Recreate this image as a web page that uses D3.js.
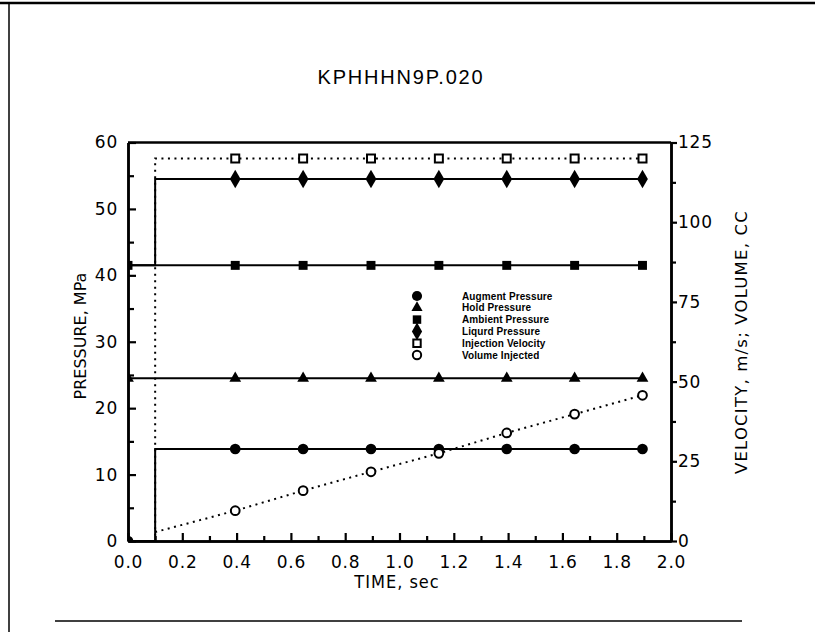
<!DOCTYPE html>
<html>
<head>
<meta charset="utf-8">
<script src="https://cdn.jsdelivr.net/npm/d3@7"></script>
<style>
  html, body { margin: 0; padding: 0; background: #fff; }
  svg { display: block; }
</style>
</head>
<body>
<svg id="chart" width="815" height="632"></svg>
<script>
// Time base shared by every series (the step at 0.1 s appears twice)
const time = [0, 0.1, 0.1, 0.395, 0.645, 0.895, 1.145, 1.395, 1.645, 1.895];

// Pressures, MPa (left axis)
const augmentPressure = [0, 0, 13.85, 13.85, 13.85, 13.85, 13.85, 13.85, 13.85, 13.85];
const holdPressure    = [24.5, 24.5, 24.5, 24.5, 24.5, 24.5, 24.5, 24.5, 24.5, 24.5];
const ambientPressure = [41.5, 41.5, 41.5, 41.5, 41.5, 41.5, 41.5, 41.5, 41.5, 41.5];
const liquidPressure  = [41.5, 41.5, 54.5, 54.5, 54.5, 54.5, 54.5, 54.5, 54.5, 54.5];

// Velocity m/s and volume cc (right axis)
const injectionVelocity = [0, 0, 120, 120, 120, 120, 120, 120, 120, 120];
const volumeInjected    = [null, null, 2.8, 9.5, 15.8, 21.7, 27.5, 33.9, 39.8, 45.7];

// Which points carry a symbol
const markedPoints = [3, 4, 5, 6, 7, 8, 9];

const xTicks = [0, 0.2, 0.4, 0.6, 0.8, 1.0, 1.2, 1.4, 1.6, 1.8, 2.0];
const xMinorTicks = [0.1, 0.3, 0.5, 0.7, 0.9, 1.1, 1.3, 1.5, 1.7, 1.9];
const leftTicks = [0, 10, 20, 30, 40, 50, 60];
const leftMinorTicks = [5, 15, 25, 35, 45, 55];
const rightTicks = [0, 25, 50, 75, 100, 125];
const rightMinorTicks = [12.5, 37.5, 62.5, 87.5, 112.5];

const titleText = "KPHHHN9P.020";
const xLabel = "TIME, sec";
const leftLabel = "PRESSURE, MPa";
const rightLabel = "VELOCITY, m/s;  VOLUME, CC";

const series = [
  { name: "Augment Pressure",   values: augmentPressure,   axis: "left",  symbol: "circle",   filled: true,  dotted: false, startMark: true },
  { name: "Hold Pressure",      values: holdPressure,      axis: "left",  symbol: "triangle", filled: true,  dotted: false, startMark: true },
  { name: "Ambient Pressure",   values: ambientPressure,   axis: "left",  symbol: "square",   filled: true,  dotted: false, startMark: true },
  { name: "Liquid Pressure",    values: liquidPressure,    axis: "left",  symbol: "diamond",  filled: true,  dotted: false, startMark: false },
  { name: "Injection Velocity", values: injectionVelocity, axis: "right", symbol: "square",   filled: false, dotted: true,  startMark: false },
  { name: "Volume Injected",    values: volumeInjected,    axis: "right", symbol: "circle",   filled: false, dotted: true,  startMark: false }
];
const legendLabels = ["Augment Pressure", "Hold Pressure", "Ambient Pressure", "Liqurd Pressure", "Injection Velocity", "Volume Injected"];

const svg = d3.select("#chart");
const plot = { left: 128, right: 671, top: 142.5, bottom: 541 };

const x = d3.scaleLinear().domain([0, 2]).range([plot.left, plot.right]);
const yL = d3.scaleLinear().domain([0, 60]).range([plot.bottom, plot.top]);
const yR = d3.scaleLinear().domain([0, 125]).range([plot.bottom, plot.top]);

const tickFont = "'DejaVu Sans', sans-serif";

// Page frame rules
svg.append("line").attr("x1", 0).attr("x2", 815).attr("y1", 3).attr("y2", 3)
  .attr("stroke", "#000").attr("stroke-width", 2.5);
svg.append("line").attr("x1", 9).attr("x2", 9).attr("y1", 3).attr("y2", 632)
  .attr("stroke", "#000").attr("stroke-width", 1.5);
svg.append("line").attr("x1", 55).attr("x2", 742).attr("y1", 621).attr("y2", 621)
  .attr("stroke", "#000").attr("stroke-width", 1.5);

// Title
svg.append("text").attr("x", 401).attr("y", 84).attr("text-anchor", "middle")
  .attr("font-family", "'Liberation Sans', Arial, sans-serif").attr("font-size", 20)
  .attr("letter-spacing", 1.8).text(titleText);

// Clip for the data
svg.append("defs").append("clipPath").attr("id", "plotClip").append("rect")
  .attr("x", plot.left).attr("y", plot.top - 10)
  .attr("width", plot.right - plot.left + 10).attr("height", plot.bottom - plot.top + 10);

const data = svg.append("g").attr("clip-path", "url(#plotClip)");

function symbolPath(kind, size) {
  const t = { circle: d3.symbolCircle, triangle: d3.symbolTriangle, square: d3.symbolSquare, diamond: d3.symbolDiamond }[kind];
  return d3.symbol().type(t).size(size)();
}
const symbolSize = { circle: 90, triangle: 60, square: 80, diamond: 100 };

series.forEach(s => {
  const y = s.axis === "left" ? yL : yR;
  const pts = time.map((t, i) => [t, s.values[i]]).filter(p => p[1] !== null);
  const line = d3.line().x(p => x(p[0])).y(p => y(p[1]));
  data.append("path").attr("d", line(pts)).attr("fill", "none").attr("stroke", "#000")
    .attr("stroke-width", 2)
    .attr("stroke-dasharray", s.dotted ? "2,4.5" : null);
  const idx = s.startMark ? [0].concat(markedPoints) : markedPoints;
  idx.forEach(i => {
    const g = data.append("path")
      .attr("transform", `translate(${x(time[i])},${y(s.values[i])})`)
      .attr("d", symbolPath(s.symbol, s.filled ? symbolSize[s.symbol] : (s.symbol === "square" ? 64 : 60)));
    if (s.filled) g.attr("fill", "#000");
    else g.attr("fill", "#fff").attr("stroke", "#000").attr("stroke-width", 2);
  });
});

// Axes: bottom (ticks point into the plot)
const xAxisMinor = d3.axisBottom(x).tickValues(xMinorTicks).tickSizeInner(-5).tickSizeOuter(0).tickFormat("");
const xAxis = d3.axisBottom(x).tickValues(xTicks).tickSizeInner(-8).tickSizeOuter(0).tickPadding(15).tickFormat(d3.format(".1f"));
svg.append("g").attr("class", "ax").attr("transform", `translate(0,${plot.bottom})`).call(xAxisMinor);
svg.append("g").attr("class", "ax").attr("transform", `translate(0,${plot.bottom})`).call(xAxis);

// Left axis (ticks point into the plot)
const yLMinor = d3.axisLeft(yL).tickValues(leftMinorTicks).tickSizeInner(-6).tickSizeOuter(0).tickFormat("");
const yLAxis = d3.axisLeft(yL).tickValues(leftTicks).tickSizeInner(-8).tickSizeOuter(0).tickPadding(10).tickFormat(d3.format("d"));
svg.append("g").attr("class", "ax").attr("transform", `translate(${plot.left},0)`).call(yLMinor);
svg.append("g").attr("class", "ax").attr("transform", `translate(${plot.left},0)`).call(yLAxis);

// Right axis (ticks point outward)
const yRMinor = d3.axisRight(yR).tickValues(rightMinorTicks).tickSizeInner(5).tickSizeOuter(0).tickFormat("");
const yRAxis = d3.axisRight(yR).tickValues(rightTicks).tickSizeInner(6).tickSizeOuter(0).tickPadding(1).tickFormat(d3.format("d"));
svg.append("g").attr("class", "ax").attr("transform", `translate(${plot.right},0)`).call(yRMinor);
svg.append("g").attr("class", "ax").attr("transform", `translate(${plot.right},0)`).call(yRAxis);

svg.selectAll(".ax .domain").attr("stroke", "#000").attr("stroke-width", 2.5);
svg.selectAll(".ax .tick line").attr("stroke", "#000").attr("stroke-width", 2.2);
svg.selectAll(".ax .tick text").attr("font-family", tickFont).attr("font-size", 17)
  .attr("letter-spacing", 0.8).attr("fill", "#000");

// Top rule of the plot box
svg.append("line").attr("x1", plot.left).attr("x2", plot.right).attr("y1", plot.top).attr("y2", plot.top)
  .attr("stroke", "#000").attr("stroke-width", 2.5);

// Axis titles
svg.append("text").attr("x", 397).attr("y", 588).attr("text-anchor", "middle")
  .attr("font-family", "'DejaVu Sans Condensed', 'DejaVu Sans', sans-serif").attr("font-size", 18)
  .attr("letter-spacing", 1).text(xLabel);
svg.append("text").attr("transform", "translate(86,336) rotate(-90)").attr("text-anchor", "middle")
  .attr("font-family", tickFont).attr("font-size", 16).text(leftLabel);
svg.append("text").attr("transform", "translate(747,342) rotate(-90)").attr("text-anchor", "middle")
  .attr("font-family", tickFont).attr("font-size", 16.5).attr("letter-spacing", 1.2).text(rightLabel);

// Legend
const legend = svg.append("g");
series.forEach((s, i) => {
  const ly = 296 + i * 11.8;
  const m = legend.append("path").attr("transform", `translate(417,${ly})`)
    .attr("d", symbolPath(s.symbol, s.filled ? symbolSize[s.symbol] * 0.9 : 55));
  if (s.filled) m.attr("fill", "#000");
  else m.attr("fill", "#fff").attr("stroke", "#000").attr("stroke-width", 2);
  legend.append("text").attr("x", 462).attr("y", ly + 3.5)
    .attr("font-family", "'Liberation Sans', Arial, sans-serif").attr("font-weight", "bold")
    .attr("font-size", 10).attr("letter-spacing", 0.1).text(legendLabels[i]);
});
</script>
</body>
</html>
